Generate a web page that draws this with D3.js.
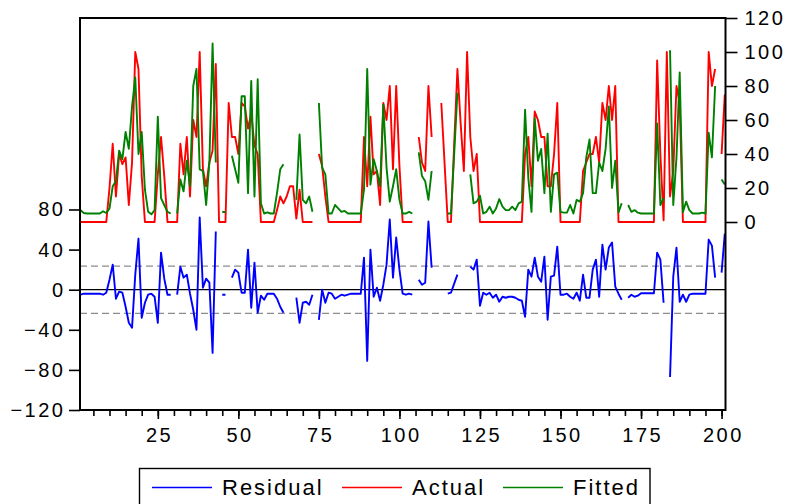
<!DOCTYPE html>
<html>
<head>
<meta charset="utf-8">
<script src="https://cdn.jsdelivr.net/npm/d3@7"></script>
<style>
  body { margin: 0; background: #fff; }
  svg { display: block; }
  text { font-family: "Liberation Sans", Arial, sans-serif; fill: #000; }
</style>
</head>
<body>
<svg id="chart" width="790" height="504"></svg>
<script>
// Observation index 1..201
const obs = d3.range(1, 202);

// Actual values (right axis); null = missing observation
const actual = [
  0,0,0,0,0,0,0,0,0,20,
  46,15,40,34,38,10,35,100,90,27,
  0,0,0,0,28,50,27,0,0,0,
  0,46,28,50,15,60,50,100,31,21,
  35,42,93,0,0,0,70,50,50,40,
  70,68,55,64,45,40,0,0,0,0,
  0,7,15,11,15,21,21,2,19,0,
  0,0,0,null,40,33,15,0,0,0,
  0,0,0,0,0,0,0,0,50,21,
  62,28,30,10,70,60,80,31,80,33,
  0,0,0,0,null,50,35,30,80,50,
  null,null,70,35,0,0,46,90,58,30,
  100,50,30,40,0,0,0,0,0,0,
  0,0,0,0,0,0,0,0,40,50,
  21,65,60,50,50,21,21,40,70,0,
  0,0,0,0,0,0,30,35,40,40,
  50,35,70,60,80,60,80,0,0,0,
  0,0,0,0,0,0,0,0,0,95,
  40,1,100,15,30,80,70,0,0,0,
  0,0,0,0,0,100,80,90,null,40,
  75
];

// Fitted values (right axis)
const fitted = [
  7,5.3,5,5,5,5,5,6.3,5.3,8,
  21,24,42,37,53,43,68,85,40,53,
  19,6,4.5,7,62,14,10,6,5,null,
  5,25,18,36,21,80,90,31,30,10,
  35,105,35,null,6,5.7,null,39,31,23,
  74,74,17,83,15,84,11,5,5.7,5,
  5,17,31,34,null,null,null,13,51.5,13,
  11,15,6,null,70,32,28,5,5,10,
  8,6,6.5,5,5,5,5,5,19,90,
  22,37,30,21,69,32,12,21,31,13,
  5,5,6,5,null,41,27,24,13,30,
  null,null,null,null,5,5,40,76,null,null,
  null,28,11,12,15.5,5,6,9,5,8,
  13.5,9,7,7,9,7,11,12,66,26,
  6,61,36,43,17,52,6,28,29,6,
  5.5,5.5,10,5,13,12,17,38,48.5,17,
  17,35,30,43,68,20,36,5.7,11,null,
  10,6,7,5.5,5,5,5,5,5,58,
  10,14,null,101,10,38,88,5.7,12,7,
  5,5,5,5.5,5,52.5,38,80,null,25,
  22
];

// Residuals (left axis)
const residual = [
  -5,-4,-4,-4,-4,-4,-4,-5,-3,10,
  25,-9,-2,-3,-17,-33,-38,15,51,-28,
  -13,-5,-4,-7,-33,37,11,-5,-5,null,
  -5,23,12,15,-4,-20,-40,72,2,11,
  7,-63,58,null,-5,-5,null,12,20,17,
  -3,-3,40,-18,27,-23,-6,-10,-4,-4,
  -4,-9,-17,-23,null,null,null,-8,-33,-13,
  -12,-15,-5,null,-30,0,-13,-3,-4,-9,
  -7,-5,-6,-5,-4,-4,-4,-4,32,-71,
  40,-7,2,-11,5,25,70,12,52,20,
  -4,-5,-4,-5,null,10,5,7,68,22,
  null,null,null,null,-4,-3,6,15,null,null,
  null,23,20,30,-16,-3,-5,-3,-8,-5,
  -12,-7,-8,-7,-7,-8,-10,-11,-27,20,
  13,32,13,8,33,-30,13,14,43,-5,
  -5,-4,-7,-9,-3,-11,15,-8,-8,20,
  30,-7,45,20,42,47,3,-4,-10,null,
  -8,-5,-7,-6,-3.5,-3.5,-3.5,-3.5,-3.5,37,
  30,-13,null,-87,13,42,-12,-5,-12,-5,
  -4,-4,-4,-4,-4,50,44,12,null,17,
  56
];

const residualTicks = [-120, -80, -40, 0, 40, 80];
const levelTicks = [0, 20, 40, 60, 80, 100, 120];
const obsLabelTicks = [25, 50, 75, 100, 125, 150, 175, 200];
const obsMinorTicks = d3.range(5, 201, 5);
const seBand = [-23.6, 23.6];   // +/- one standard error of the regression

const seriesNames = ["Residual", "Actual", "Fitted"];
const seriesColors = ["#0000ff", "#ff0000", "#008000"];

const svg = d3.select("#chart");
const frame = { left: 80, top: 18, right: 725.5, bottom: 410 };

const x = d3.scaleLinear().domain([1, 201]).range([80.5, 724.8]);
const yRes = d3.scaleLinear().domain([-120, 80]).range([410, 209.5]);
const yLev = d3.scaleLinear().domain([0, 120]).range([222, 18]);

svg.append("rect").attr("width", 790).attr("height", 504).attr("fill", "#fff");

// Standard-error band and zero line for the residuals
svg.selectAll("line.band").data(seBand).join("line")
  .attr("class", "band")
  .attr("x1", frame.left).attr("x2", frame.right)
  .attr("y1", d => yRes(d)).attr("y2", d => yRes(d))
  .attr("stroke", "#8c8c8c").attr("stroke-width", 1.2)
  .attr("stroke-dasharray", "7,4");

svg.append("line")
  .attr("x1", frame.left).attr("x2", frame.right)
  .attr("y1", yRes(0)).attr("y2", yRes(0))
  .attr("stroke", "#000").attr("stroke-width", 1.2);

// Series lines (gaps where observations are missing)
const lineRes = d3.line().defined(i => residual[i - 1] != null)
  .x(i => x(i)).y(i => yRes(residual[i - 1]));
const lineAct = d3.line().defined(i => actual[i - 1] != null)
  .x(i => x(i)).y(i => yLev(actual[i - 1]));
const lineFit = d3.line().defined(i => fitted[i - 1] != null)
  .x(i => x(i)).y(i => yLev(fitted[i - 1]));

const plot = svg.append("g").attr("fill", "none").attr("stroke-width", 1.9)
  .attr("stroke-linejoin", "round");
plot.append("path").attr("d", lineRes(obs)).attr("stroke", seriesColors[0]);
plot.append("path").attr("d", lineAct(obs)).attr("stroke", seriesColors[1]);
plot.append("path").attr("d", lineFit(obs)).attr("stroke", seriesColors[2]);

// Frame
svg.append("rect")
  .attr("x", frame.left).attr("y", frame.top)
  .attr("width", frame.right - frame.left).attr("height", frame.bottom - frame.top)
  .attr("fill", "none").attr("stroke", "#000").attr("stroke-width", 2);

const fontSize = 20;
const spacing = 2.5;

// Left axis: residuals
const leftAxis = svg.append("g")
  .attr("transform", `translate(${frame.left},0)`)
  .call(d3.axisLeft(yRes).tickValues(residualTicks).tickSize(11).tickPadding(6 - spacing));
leftAxis.select(".domain").remove();
leftAxis.selectAll("line").attr("stroke", "#000").attr("stroke-width", 1.6);
leftAxis.selectAll("text").attr("font-size", fontSize).style("letter-spacing", spacing + "px")
  .attr("font-family", null);

// Right axis: actual / fitted
const rightAxis = svg.append("g")
  .attr("transform", `translate(${frame.right},0)`)
  .call(d3.axisRight(yLev).tickValues(levelTicks).tickSize(12).tickPadding(7));
rightAxis.select(".domain").remove();
rightAxis.selectAll("line").attr("stroke", "#000").attr("stroke-width", 1.6);
rightAxis.selectAll("text").attr("font-size", fontSize).style("letter-spacing", spacing + "px")
  .attr("font-family", null);

// Bottom axis: minor ticks every 5 observations, labels every 25
const minorAxis = svg.append("g")
  .attr("transform", `translate(0,${frame.bottom})`)
  .call(d3.axisBottom(x).tickValues(obsMinorTicks).tickSize(6).tickFormat(""));
minorAxis.select(".domain").remove();
minorAxis.selectAll("line").attr("stroke", "#000").attr("stroke-width", 1.6);

const majorAxis = svg.append("g")
  .attr("transform", `translate(0,${frame.bottom})`)
  .call(d3.axisBottom(x).tickValues(obsLabelTicks).tickSize(9).tickPadding(9));
majorAxis.select(".domain").remove();
majorAxis.selectAll("line").attr("stroke", "#000").attr("stroke-width", 1.6);
majorAxis.selectAll("text").attr("font-size", fontSize).style("letter-spacing", spacing + "px")
  .attr("font-family", null).attr("dx", spacing / 2);

// Legend
const legend = svg.append("g");
legend.append("rect")
  .attr("x", 139.5).attr("y", 468.5).attr("width", 510.5).attr("height", 60)
  .attr("fill", "#fff").attr("stroke", "#000").attr("stroke-width", 1.4);
const legendX = [152, 342, 503];
seriesNames.forEach((name, k) => {
  legend.append("line")
    .attr("x1", legendX[k]).attr("x2", legendX[k] + 60)
    .attr("y1", 487.5).attr("y2", 487.5)
    .attr("stroke", seriesColors[k]).attr("stroke-width", 1.4);
  legend.append("text")
    .attr("x", legendX[k] + 70).attr("y", 495)
    .attr("font-size", 22).style("letter-spacing", "2px")
    .text(name);
});
</script>
</body>
</html>
